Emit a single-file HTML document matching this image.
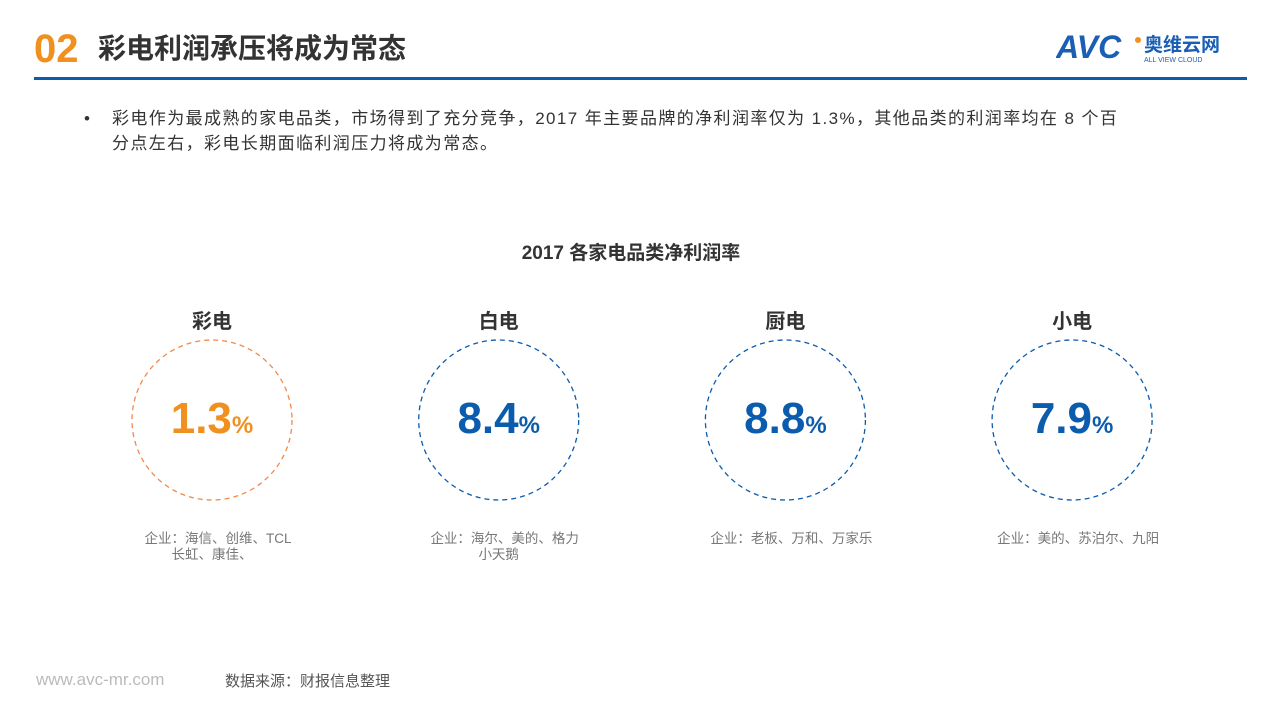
<!DOCTYPE html>
<html><head><meta charset="utf-8"><style>
body{margin:0;width:1280px;height:720px;background:#fff;font-family:"Liberation Sans","Noto Sans CJK SC",sans-serif;overflow:hidden;position:relative}
.abs{position:absolute}
</style></head><body>
<div class="abs" style="left:34px;top:26px;font-size:40px;font-weight:bold;color:#f0901e;line-height:46px">02</div>
<div class="abs" style="left:98px;top:30px;font-size:28px;font-weight:bold;color:#333;line-height:38px">彩电利润承压将成为常态</div>
<div class="abs" style="left:1056px;top:30px;width:190px;height:34px">
<svg width="190" height="34"><text x="0" y="28" font-size="32" font-weight="bold" font-style="italic" fill="#1a5fb4" font-family="Liberation Sans">AVC</text><circle cx="82" cy="10" r="3" fill="#f0901e"/><text x="88" y="21" font-size="19" font-weight="bold" fill="#1a5fb4" font-family="Noto Sans CJK SC">奥维云网</text><text x="88" y="32" font-size="7" fill="#1a5fb4">ALL VIEW CLOUD</text></svg></div>
<div class="abs" style="left:34px;top:77px;width:1213px;height:3px;background:#0b5cad"></div>
<div class="abs" style="left:84px;top:106px;width:1150px;font-size:17px;letter-spacing:1.4px;line-height:25px;color:#333;white-space:nowrap"><span style="position:absolute;left:0">•</span><div style="margin-left:28px">彩电作为最成熟的家电品类，市场得到了充分竞争，2017 年主要品牌的净利润率仅为 1.3%，其他品类的利润率均在 8 个百<br>分点左右，彩电长期面临利润压力将成为常态。</div></div>
<div class="abs" style="left:0;width:1262px;top:238px;text-align:center;font-size:19px;font-weight:bold;color:#333;text-indent:-0px"><span style="position:relative;left:0">2017 各家电品类净利润率</span></div>
<svg id="chart" class="abs" style="left:0;top:290px" width="1280" height="290"></svg>
<div class="abs" style="left:36px;top:670px;font-size:17px;color:#bbb">www.avc-mr.com</div>
<div class="abs" style="left:225px;top:670px;font-size:15px;color:#555">数据来源：财报信息整理</div>
<script>
const categories=["彩电","白电","厨电","小电"];
const values=[1.3,8.4,8.8,7.9];
const companies=[["企业：海信、创维、TCL","长虹、康佳、"],["企业：海尔、美的、格力","小天鹅"],["企业：老板、万和、万家乐"],["企业：美的、苏泊尔、九阳"]];
const svg=document.getElementById('chart');
const NS='http://www.w3.org/2000/svg';
const xPos=i=>212+i*286.7;
function mk(t,a,txt){const e=document.createElementNS(NS,t);for(const k in a)e.setAttribute(k,a[k]);if(txt!==undefined)e.textContent=txt;svg.appendChild(e);return e;}
categories.forEach((c,i)=>{
 const cx=xPos(i);const col=i===0?'#f0901e':'#0b5cad';const ring=i===0?'#f08a4b':'#0b5cad';
 const t=mk('text',{x:cx,y:38,'text-anchor':'middle','font-size':20,'font-weight':'bold',fill:'#333'},c);
 
 
 const ci=mk('circle',{cx:cx,cy:130,r:80,fill:'none',stroke:ring,'stroke-width':1.3,'stroke-dasharray':'5 4'});
 
 
 const v=mk('text',{x:cx,y:143,'text-anchor':'middle',fill:col,'font-weight':'bold'});
 
 
 const s1=document.createElementNS(NS,'tspan');s1.setAttribute('font-size',44);s1.textContent=values[i].toFixed(1);v.appendChild(s1);
 const s2=document.createElementNS(NS,'tspan');s2.setAttribute('font-size',24);s2.textContent='%';v.appendChild(s2);
 companies[i].forEach((l,j)=>{
  const ct=mk('text',{x:cx+(j?0:6),y:253+j*16,'text-anchor':'middle','font-size':13.5,fill:'#777'},l);
  
  
 });
});
</script>
</body></html>
